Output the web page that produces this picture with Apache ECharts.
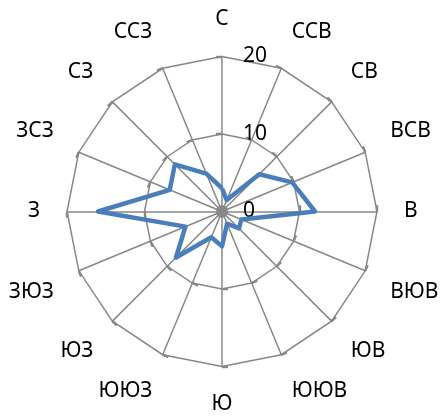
<!DOCTYPE html>
<html>
<head>
<meta charset="utf-8">
<script src="https://cdn.jsdelivr.net/npm/echarts@6/dist/echarts.min.js"></script>
<style>
  html, body { margin: 0; padding: 0; background: #fff; }
  #chart { width: 441px; height: 418px; }
</style>
</head>
<body>
<div id="chart"></div>
<script>
// Wind directions, clockwise from north
const directions = ['С', 'ССВ', 'СВ', 'ВСВ', 'В', 'ВЮВ', 'ЮВ', 'ЮЮВ',
                    'Ю', 'ЮЮЗ', 'ЮЗ', 'ЗЮЗ', 'З', 'ЗСЗ', 'СЗ', 'ССЗ'];
// Frequency per direction
const frequency = [3.0, 1.6, 6.8, 9.8, 12.0, 2.7, 3.1, 1.7,
                   4.5, 3.6, 8.4, 5.1, 16.0, 7.3, 8.6, 5.3];
// Radial scale
const radialMin = 0;
const radialMax = 20;
const radialStep = 10;

// ECharts lays radar indicators out counter-clockwise, so keep north first
// and reverse the rest to get a clockwise compass.
const order = [0].concat(directions.map((_, i) => i).slice(1).reverse());

const GRAY = '#888888';
const FONT = '"Noto Sans", "Open Sans", sans-serif';
const CENTER = [222, 211.5];
const RADIUS = 155;

function makeIndicators(withLabels) {
  return order.map((idx, k) => {
    const ind = { name: directions[idx], min: radialMin, max: radialMax };
    if (withLabels && k === 0) {
      // value labels sit to the right of the north spoke
      ind.axisLabel = {
        show: true,
        color: '#000',
        fontFamily: FONT,
        fontSize: 21,
        align: 'left',
        margin: -21
      };
    }
    return ind;
  });
}

// Intermediate directions get an extra spacer line on the side facing the
// centre, so they sit a little further out vertically.
function nameFormatter(name) {
  const i = directions.indexOf(name);
  const upper = (i >= 1 && i <= 3) || (i >= 13 && i <= 15);
  const lower = (i >= 5 && i <= 7) || (i >= 9 && i <= 11);
  if (upper) return '{d|' + name + '}\n{s| }';
  if (lower) return '{s| }\n{d|' + name + '}';
  return '{d|' + name + '}';
}

const tickStyle = { color: GRAY, width: 2.2 };

const chart = echarts.init(document.getElementById('chart'), null, { renderer: 'canvas' });
chart.setOption({
  animation: false,
  backgroundColor: '#fff',
  radar: [{
    center: CENTER,
    radius: RADIUS,
    startAngle: 90,
    shape: 'polygon',
    splitNumber: radialMax / radialStep,
    indicator: makeIndicators(true),
    axisName: {
      color: '#000',
      fontFamily: FONT,
      fontSize: 21,
      formatter: nameFormatter,
      rich: {
        d: { fontFamily: FONT, fontSize: 21, color: '#000' },
        s: { fontSize: 2, lineHeight: 22 }
      }
    },
    nameGap: 27,
    axisLine: { lineStyle: { color: GRAY, width: 1.5 } },
    splitLine: { lineStyle: { color: GRAY, width: 1.5 } },
    splitArea: { show: false },
    axisTick: { show: true, length: 6, lineStyle: tickStyle }
  }, {
    // second pass for the inner half of the cross tick marks
    center: CENTER,
    radius: RADIUS,
    startAngle: 90,
    shape: 'polygon',
    splitNumber: radialMax / radialStep,
    indicator: makeIndicators(false),
    axisName: { show: false },
    axisLine: { show: false },
    splitLine: { show: false },
    splitArea: { show: false },
    axisTick: { show: true, inside: true, length: 6, lineStyle: tickStyle }
  }],
  series: [{
    type: 'radar',
    radarIndex: 0,
    symbol: 'none',
    lineStyle: { color: '#4a7ebb', width: 4.5, join: 'round' },
    data: [{ value: order.map(i => frequency[i]) }]
  }]
});
</script>
</body>
</html>
